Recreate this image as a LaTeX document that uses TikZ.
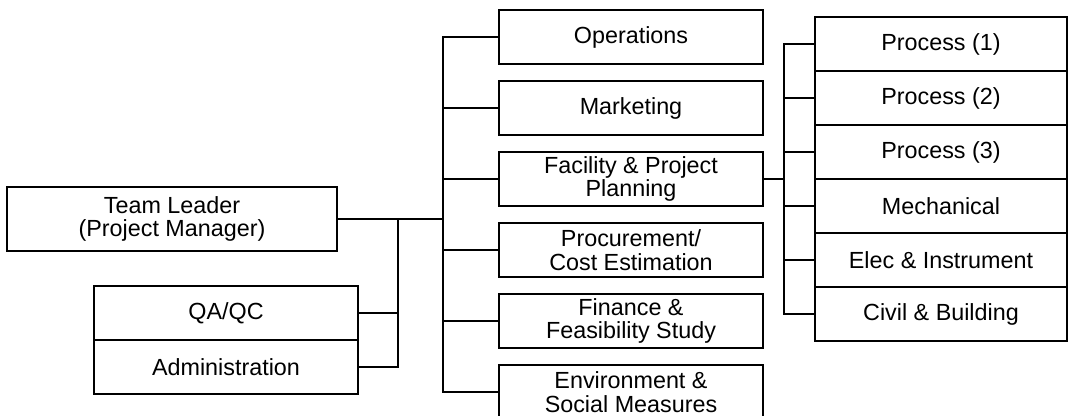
\documentclass[tikz,border=0pt]{standalone}
\usepackage{fontspec}
\setmainfont{Liberation Sans}
\usetikzlibrary{positioning, calc}

\begin{document}
\begin{tikzpicture}[
    unit/.style={draw, rectangle, line width=1.3pt, outer sep=0pt, inner sep=0pt, minimum width=6.6cm, minimum height=1.35cm, align=center, font=\fontsize{16.6}{16.8}\selectfont},
    sect/.style={unit, minimum width=6.3cm},
    link/.style={line width=1.3pt}
  ]
  \useasboundingbox (0,0) rectangle (26.7,10.4);

  % Team leader
  \node[unit, minimum width=8.25cm, minimum height=1.6cm] (lead) at (4.3,4.925) {Team Leader\\(Project Manager)};

  % Staff units
  \node[unit] (qa) at (5.65,2.575) {QA/QC};
  \node[unit, below=0pt of qa] (adm) {Administration};

  % Divisions
  \node[unit] (ops) at (15.775,9.475) {Operations};
  \node[unit, below=0.425cm of ops] (mkt) {Marketing};
  \node[unit, below=0.425cm of mkt] (fac) {Facility \& Project\\Planning};
  \node[unit, below=0.425cm of fac] (proc) {Procurement/\\Cost Estimation};
  \node[unit, below=0.425cm of proc] (fin) {Finance \&\\Feasibility Study};
  \node[unit, below=0.425cm of fin] (env) {Environment \&\\Social Measures};

  % Engineering sections
  \node[sect] (p1) at (23.525,9.3) {Process (1)};
  \node[sect, below=0pt of p1] (p2) {Process (2)};
  \node[sect, below=0pt of p2] (p3) {Process (3)};
  \node[sect, below=0pt of p3] (mech) {Mechanical};
  \node[sect, below=0pt of mech] (ei) {Elec \& Instrument};
  \node[sect, below=0pt of ei] (cb) {Civil \& Building};

  % Main trunk
  \coordinate (trunk) at (11.075,0);
  \draw[link] (lead.east) -- (lead.east -| trunk);
  \draw[link] (ops.west) -- (ops.west -| trunk) -- (env.west -| trunk) -- (env.west);
  \foreach \n in {mkt, fac, proc, fin}
    \draw[link] (\n.west -| trunk) -- (\n.west);

  % Staff bus
  \coordinate (sbus) at (9.95,0);
  \draw[link] (qa.east) -- (qa.east -| sbus);
  \draw[link] (lead.east -| sbus) -- (adm.east -| sbus) -- (adm.east);

  % Section bus
  \coordinate (ebus) at (19.6,0);
  \draw[link] (fac.east) -- (fac.east -| ebus);
  \draw[link] (p1.west) -- (p1.west -| ebus) -- (cb.west -| ebus) -- (cb.west);
  \foreach \n in {p2, p3, mech, ei}
    \draw[link] (\n.west -| ebus) -- (\n.west);
\end{tikzpicture}
\end{document}
